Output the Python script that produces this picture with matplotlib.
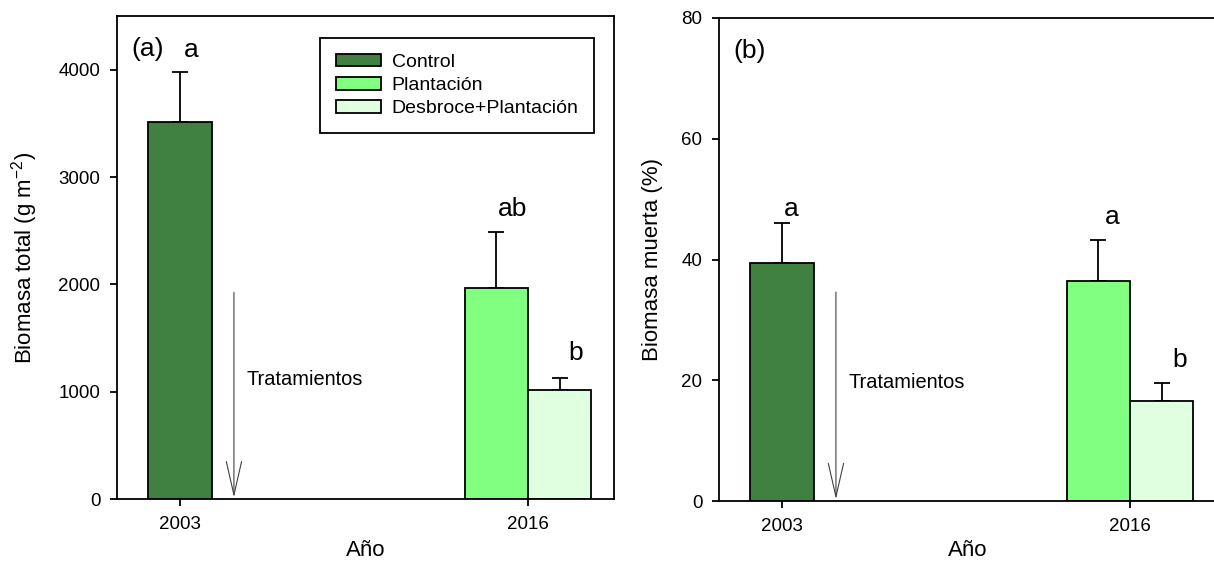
import matplotlib
matplotlib.use("Agg")
import matplotlib.pyplot as plt
import numpy as np

plt.rcParams["font.family"] = ["Liberation Sans", "DejaVu Sans"]

# Data
years = ["2003", "2016"]
treatments = ["Control", "Plantación", "Desbroce+Plantación"]
colors = ["#408040", "#80ff80", "#e0ffe0"]

# bars: (year index, treatment index)
bar_year = [0, 1, 1]
bar_treat = [0, 1, 2]

total_mean = [3515, 1970, 1020]
total_err = [465, 520, 105]
total_letters = ["a", "ab", "b"]

dead_mean = [39.4, 36.5, 16.6]
dead_err = [6.7, 6.8, 3.0]
dead_letters = ["a", "a", "b"]

W = 0.182
FS_TICK = 13.5
FS_LAB = 16
FS_LET = 19

fig = plt.figure(figsize=(12.14, 5.62), dpi=100)
ax1 = fig.add_axes([117 / 1214, 63 / 562, 497 / 1214, 483 / 562])
ax2 = fig.add_axes([719 / 1214, 61 / 562, 497 / 1214, 483 / 562])


def bar_x(i):
    yr = bar_year[i]
    members = [k for k in range(len(bar_year)) if bar_year[k] == yr]
    n = len(members)
    pos = members.index(i)
    return yr + (pos - (n - 1) / 2) * W


def panel(ax, means, errs, letters, ylim, yticks, ylabel, tag, arrow_top,
          arrow_bot, text_y, let_dx, let_dy, ylab_x, xlab_y):
    xs = [bar_x(i) for i in range(len(means))]
    for i, x in enumerate(xs):
        ax.bar(x, means[i], width=W, color=colors[bar_treat[i]],
               edgecolor="black", linewidth=1.3, zorder=2,
               label=treatments[bar_treat[i]])
        ax.errorbar(x, means[i], yerr=[[0], [errs[i]]], fmt="none",
                    ecolor="black", elinewidth=1.3, capsize=5.8,
                    capthick=1.3, zorder=1)
        ax.annotate(letters[i], (x, means[i] + errs[i]),
                    xytext=(let_dx[i], let_dy[i]), textcoords="offset points",
                    ha="center", va="baseline", fontsize=FS_LET)
    ax.set_xlim(-0.181, 1.247)
    ax.set_ylim(*ylim)
    ax.set_yticks(yticks)
    ax.set_xticks([0, 1])
    ax.set_xticklabels(years)
    ax.tick_params(axis="both", direction="out", length=5, width=1.3,
                   labelsize=FS_TICK, pad=7)
    for s in ax.spines.values():
        s.set_linewidth(1.3)
    ax.set_xlabel("Año", fontsize=FS_LAB)
    ax.xaxis.set_label_coords(0.5, xlab_y)
    ax.set_ylabel(ylabel, fontsize=FS_LAB)
    ax.yaxis.set_label_coords(ylab_x, 0.5)
    ax.text(0.028, 0.917, tag, transform=ax.transAxes, fontsize=FS_LET,
            va="baseline", ha="left")
    ax.annotate("", xy=(0.155, arrow_bot), xytext=(0.155, arrow_top),
                arrowprops=dict(arrowstyle="->,head_length=2.4,head_width=0.55",
                                color="#404040", lw=0.8, shrinkA=0, shrinkB=0))
    ax.text(0.19, text_y, "Tratamientos", fontsize=14.4, va="center",
            ha="left")


panel(ax1, total_mean, total_err, total_letters, (0, 4500),
      [0, 1000, 2000, 3000, 4000],
      r"Biomasa total (g m$^{\mathregular{-2}}$)", "(a)",
      1925, 15, 1110, [8, 11.5, 11.5], [11, 11.5, 13], -0.155, -0.084)
panel(ax2, dead_mean, dead_err, dead_letters, (0, 80),
      [0, 20, 40, 60, 80], "Biomasa muerta (%)", "(b)",
      34.6, 0.3, 19.7, [7, 10, 13], [5, 11, 11.5], -0.113, -0.08)

handles = [plt.Rectangle((0, 0), 1, 1, facecolor=c, edgecolor="black",
                         linewidth=1.3) for c in colors]
leg = ax1.legend(handles, treatments, loc="upper right",
                 bbox_to_anchor=(0.96, 0.954), borderaxespad=0,
                 fontsize=14, handlelength=2.3, handleheight=0.62,
                 labelspacing=0.31, handletextpad=0.57, borderpad=0.8,
                 fancybox=False, framealpha=1)
leg.get_frame().set_edgecolor("black")
leg.get_frame().set_linewidth(1.3)

fig.savefig("out.png", dpi=100)
